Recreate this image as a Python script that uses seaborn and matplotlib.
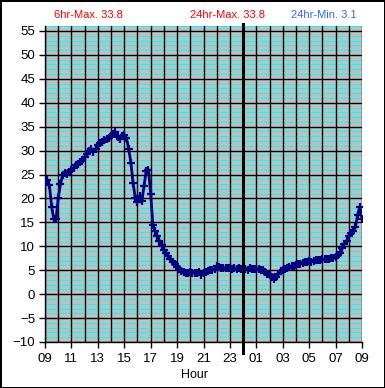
import matplotlib
matplotlib.use("Agg")
import matplotlib.pyplot as plt
from matplotlib.ticker import MultipleLocator
import seaborn as sns
import pandas as pd
import numpy as np

# temperature readings every 10 minutes, starting 09:00
temps = [
    23.2, 23.9, 22.8, 18.3, 15.7, 15.6,   # 09
    20.0, 23.0, 24.8, 25.3, 25.2, 25.5,   # 10
    26.0, 26.4, 27.0, 27.3, 27.6, 27.8,   # 11
    28.6, 29.3, 30.0, 30.3, 29.8, 30.4,   # 12
    31.2, 31.5, 31.9, 32.3, 32.5, 32.6,   # 13
    33.0, 33.5, 33.8, 32.9, 32.4, 33.1,   # 14
    33.3, 32.6, 30.4, 27.5, 23.3, 20.1,   # 15
    19.2, 20.6, 19.5, 22.6, 25.8, 26.0,   # 16
    21.0, 14.5, 13.1, 12.1, 11.2, 10.2,   # 17
    9.3, 8.6, 8.0, 7.4, 6.8, 6.2,         # 18
    5.7, 5.2, 4.9, 4.6, 4.5, 4.4,         # 19
    4.6, 4.5, 4.4, 4.5, 4.6, 3.9,         # 20
    4.5, 4.6, 4.8, 5.0, 5.0, 5.3,         # 21
    5.8, 5.6, 5.4, 5.4, 5.5, 5.4,         # 22
    5.4, 5.3, 5.4, 5.3, 5.4, 5.2,         # 23
    5.2, 5.3, 5.1, 5.4, 5.2, 5.3,         # 00
    5.3, 5.2, 5.1, 5.0, 4.6, 4.3,         # 01
    4.0, 3.6, 3.1, 3.5, 4.2, 4.8,         # 02
    5.1, 5.3, 5.4, 5.6, 5.8, 5.9,         # 03
    6.1, 6.2, 6.4, 6.5, 6.7, 6.8,         # 04
    6.9, 6.8, 7.0, 7.1, 7.1, 7.2,         # 05
    7.3, 7.3, 7.4, 7.4, 7.5, 7.5,         # 06
    7.8, 8.2, 8.6, 9.6, 10.5, 11.1,       # 07
    12.1, 12.8, 13.3, 14.0, 16.5, 18.3,   # 08
    15.8,                                 # 09
]
hour_labels = ["09", "11", "13", "15", "17", "19", "21", "23",
               "01", "03", "05", "07", "09"]
max6 = 33.8
max24 = 33.8
min24 = 3.1

df = pd.DataFrame({"hour": np.arange(len(temps)) / 6.0, "temp": temps})

fig = plt.figure(figsize=(3.85, 3.88), dpi=100)
fig.patch.set_facecolor("white")
fig.patch.set_edgecolor("black")
fig.patch.set_linewidth(2)
ax = fig.add_axes([45 / 385, 1 - 342 / 388, 317 / 385, (342 - 25.7) / 388])
ax.set_facecolor("#c0c0c0")

sns.lineplot(data=df, x="hour", y="temp", ax=ax, color="#000080",
             marker="+", markersize=6, markeredgewidth=1.6,
             markeredgecolor="#000080", linewidth=2.0, zorder=3)

ax.set_xlim(0, 24)
ax.set_ylim(-10, 56.1)
ax.set_xticks(np.arange(0, 25, 2), hour_labels)
ax.xaxis.set_minor_locator(MultipleLocator(1))
ax.yaxis.set_major_locator(MultipleLocator(5))
ax.yaxis.set_minor_locator(MultipleLocator(1))

ax.grid(which="major", axis="both", color="black", linewidth=1.0)
ax.grid(which="minor", axis="x", color="black", linewidth=1.0)
ax.grid(which="minor", axis="y", color="#00ffff", linewidth=0.8)
ax.set_axisbelow(True)
ax.yaxis.set_zorder(0.5)
ax.xaxis.set_zorder(0.6)

ax.tick_params(which="minor", length=0)
ax.tick_params(which="major", direction="out", length=4, width=1,
               color="black", labelsize=9.5, pad=3)
ax.tick_params(axis="x", pad=4)
for s in ["top", "right"]:
    ax.spines[s].set_visible(False)
for s in ["left", "bottom"]:
    ax.spines[s].set_color("black")
    ax.spines[s].set_linewidth(1)

ax.set_xlabel("")
ax.set_ylabel("")
for lab in ax.get_xticklabels() + ax.get_yticklabels():
    lab.set_fontfamily("Liberation Sans")

# midnight marker
ax.axvline(15, ymin=-0.035, ymax=1.006, color="black", linewidth=2.2,
           clip_on=False, zorder=4)

fig.text(88 / 385, 1 - 15 / 388, f"6hr-Max. {max6}", color="#ff0000",
         ha="center", va="center", fontsize=8, family="Liberation Sans")
fig.text(228 / 385, 1 - 15 / 388, f"24hr-Max. {max24}", color="#ff0000",
         ha="center", va="center", fontsize=8, family="Liberation Sans")
fig.text(323.5 / 385, 1 - 15 / 388, f"24hr-Min. {min24}", color="#3366ff",
         ha="center", va="center", fontsize=8, family="Liberation Sans")
fig.text(194.5 / 385, 1 - 375 / 388, "Hour", color="black",
         ha="center", va="center", fontsize=9, family="Liberation Sans")

fig.savefig("out.png", dpi=100)
